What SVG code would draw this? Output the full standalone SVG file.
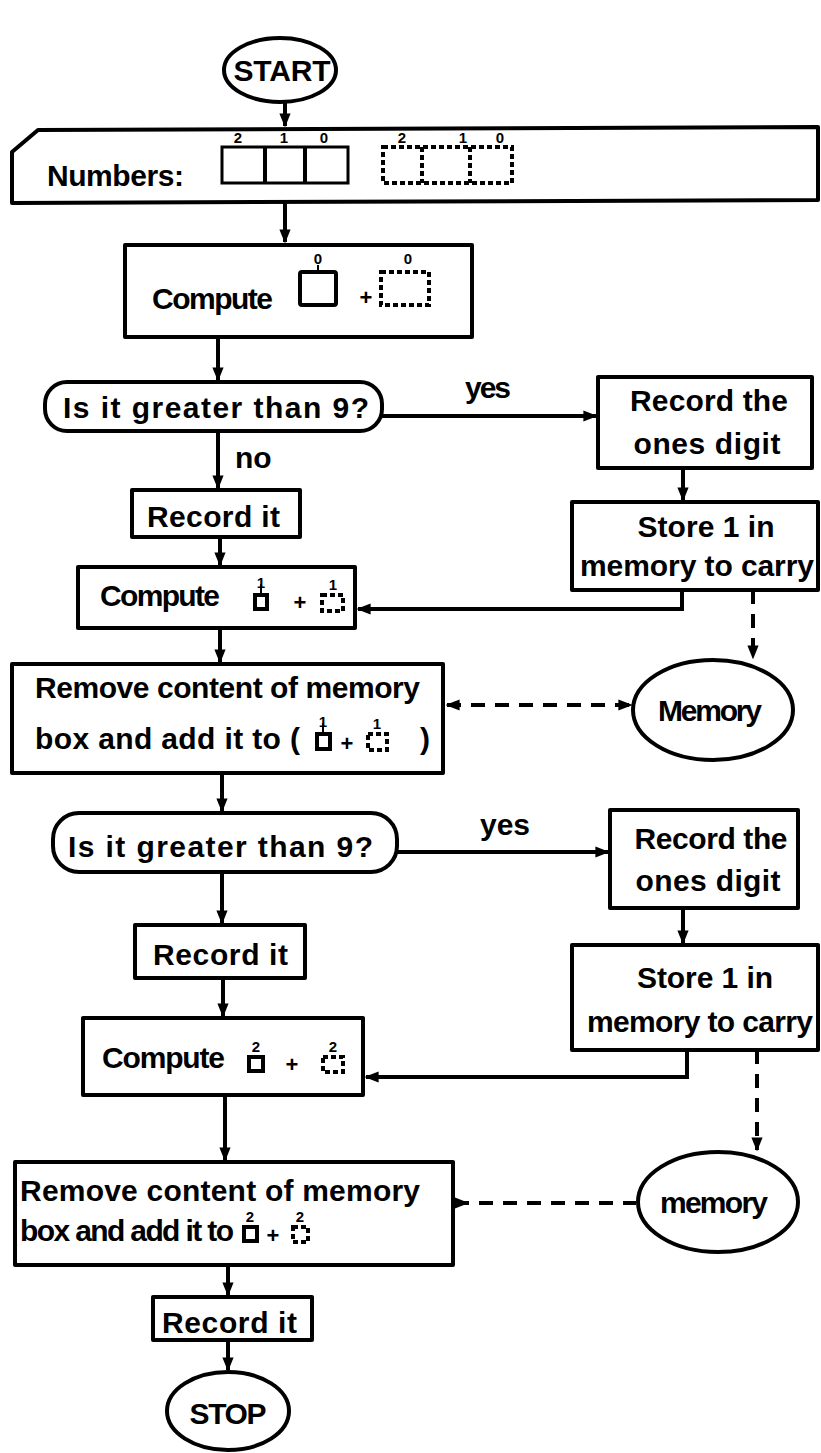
<svg xmlns="http://www.w3.org/2000/svg" width="821" height="1453" viewBox="0 0 821 1453">
<defs>
<style>
.b{fill:#fff;stroke:#000;stroke-width:4;stroke-linejoin:round}
.t{font-family:"Liberation Sans",Arial,sans-serif;font-weight:bold;font-size:30px;fill:#000}
.s{font-family:"Liberation Sans",Arial,sans-serif;font-weight:bold;font-size:15px;fill:#000}
.p{font-family:"Liberation Sans",Arial,sans-serif;font-weight:bold;font-size:22px;fill:#000}
.c{fill:none;stroke:#000;stroke-width:4}
.dc{fill:none;stroke:#000;stroke-width:4;stroke-dasharray:14 10}
.ic{fill:#fff;stroke:#000;stroke-width:3}
.is{fill:#fff;stroke:#000;stroke-width:4}
.ids{fill:none;stroke:#000;stroke-width:4;stroke-dasharray:5 3}
.st{stroke:#000;stroke-width:2}
.m{text-anchor:middle}
</style>
<marker id="a" viewBox="0 0 10 10" refX="9" refY="5" markerWidth="3.5" markerHeight="3.5" orient="auto-start-reverse"><path d="M0,1 L10,5 L0,9 z" fill="#000"/></marker>
<marker id="r" viewBox="0 0 10 10" refX="0" refY="5" markerWidth="3.5" markerHeight="3.5" orient="auto"><path d="M0,1 L10,5 L0,9 z" fill="#000"/></marker>
</defs>
<rect width="821" height="1453" fill="#fff"/>

<g id="connectors">
<line class="c" x1="285" y1="103" x2="285" y2="126" marker-end="url(#a)"/>
<line class="c" x1="285" y1="202" x2="285" y2="242" marker-end="url(#a)"/>
<line class="c" x1="218" y1="337" x2="218" y2="380" marker-end="url(#a)"/>
<path class="c" d="M382,416 H596" marker-end="url(#a)"/>
<text class="t" x="465" y="398" textLength="46">yes</text>
<line class="c" x1="218" y1="432" x2="218" y2="488" marker-end="url(#a)"/>
<text class="t" x="235" y="468" font-size="26">no</text>
<line class="c" x1="683" y1="468" x2="683" y2="500" marker-end="url(#a)"/>
<line class="c" x1="220" y1="537" x2="220" y2="565" marker-end="url(#a)"/>
<path class="c" d="M682,590 V609 H358" marker-end="url(#a)"/>
<path class="dc" d="M753,590 V658" marker-end="url(#a)"/>
<line class="c" x1="220" y1="628" x2="220" y2="662" marker-end="url(#a)"/>
<path class="dc" d="M447,705 H631" marker-start="url(#a)" marker-end="url(#a)"/>
<line class="c" x1="222" y1="773" x2="222" y2="811" marker-end="url(#a)"/>
<path class="c" d="M397,852 H608" marker-end="url(#a)"/>
<text class="t" x="480" y="835" textLength="50">yes</text>
<line class="c" x1="683" y1="908" x2="683" y2="943" marker-end="url(#a)"/>
<line class="c" x1="222" y1="872" x2="222" y2="923" marker-end="url(#a)"/>
<line class="c" x1="223" y1="978" x2="223" y2="1016" marker-end="url(#a)"/>
<path class="c" d="M687,1050 V1077 H366" marker-end="url(#a)"/>
<path class="dc" d="M757,1050 V1150" marker-end="url(#a)"/>
<line class="c" x1="225" y1="1095" x2="225" y2="1160" marker-end="url(#a)"/>
<path class="dc" d="M455,1203 H636" marker-start="url(#r)"/>
<line class="c" x1="228" y1="1265" x2="228" y2="1295" marker-end="url(#a)"/>
<line class="c" x1="228" y1="1340" x2="228" y2="1370" marker-end="url(#a)"/>
</g>

<g id="start">
<ellipse class="b" cx="280" cy="70" rx="56" ry="32"/>
<text class="t m" x="282" y="81" textLength="97">START</text>
</g>

<g id="numbers">
<path class="b" d="M12,203 L12,152 L38,130 L818,127 L818,200 Z"/>
<text class="t" x="47" y="186" textLength="137">Numbers:</text>
<rect class="ic" x="222" y="147" width="126" height="36" stroke-width="4"/>
<line class="c" x1="265" y1="147" x2="265" y2="183"/>
<line class="c" x1="305" y1="147" x2="305" y2="183"/>
<text class="s m" x="238" y="143">2</text>
<text class="s m" x="284" y="143">1</text>
<text class="s m" x="324" y="143">0</text>
<rect class="ids" x="383" y="147" width="129" height="36"/>
<line class="ids" x1="422" y1="147" x2="422" y2="183"/>
<line class="ids" x1="470" y1="147" x2="470" y2="183"/>
<text class="s m" x="402" y="143">2</text>
<text class="s m" x="463" y="143">1</text>
<text class="s m" x="500" y="143">0</text>
</g>

<g id="compute1">
<rect class="b" x="125" y="245" width="347" height="92"/>
<text class="t" x="152" y="309" textLength="121">Compute</text>
<rect class="is" x="300" y="272" width="36" height="33" rx="2"/>
<line class="st" x1="318" y1="265" x2="318" y2="272"/>
<text class="s m" x="318" y="264">0</text>
<text class="p m" x="366" y="305">+</text>
<rect class="ids" x="381" y="272" width="48" height="33"/>
<text class="s m" x="408" y="264">0</text>
</g>

<g id="decision1">
<rect class="b" x="45" y="382" width="337" height="49" rx="22"/>
<text class="t" x="63" y="418" textLength="306">Is it greater than 9?</text>
</g>

<g id="recordones1">
<rect class="b" x="598" y="377" width="214" height="91"/>
<text class="t m" x="709" y="411" textLength="158">Record the</text>
<text class="t m" x="707" y="454" textLength="147">ones digit</text>
</g>

<g id="store1">
<rect class="b" x="572" y="502" width="246" height="88"/>
<text class="t m" x="706" y="537" textLength="137">Store 1 in</text>
<text class="t m" x="697" y="576" textLength="234">memory to carry</text>
</g>

<g id="recordit1">
<rect class="b" x="132" y="490" width="168" height="47"/>
<text class="t" x="147" y="527" textLength="133">Record it</text>
</g>

<g id="compute2">
<rect class="b" x="78" y="567" width="277" height="61"/>
<text class="t" x="100" y="606" textLength="120">Compute</text>
<rect class="is" x="255" y="595" width="12" height="14"/>
<line class="st" x1="261" y1="584" x2="261" y2="595"/>
<text class="s m" x="261" y="588" font-size="12">1</text>
<text class="p m" x="300" y="610">+</text>
<rect class="ids" x="322" y="595" width="21" height="16"/>
<text class="s m" x="333" y="590" font-size="12">1</text>
</g>

<g id="memory1">
<ellipse class="b" cx="713" cy="710" rx="80" ry="50"/>
<text class="t m" x="710" y="721" textLength="104">Memory</text>
</g>

<g id="remove1">
<rect class="b" x="12" y="664" width="431" height="109"/>
<text class="t" x="35" y="698" textLength="385">Remove content of memory</text>
<text class="t" x="35" y="749" textLength="265">box and add it to (</text>
<rect class="is" x="317" y="734" width="13" height="15"/>
<line class="st" x1="323" y1="723" x2="323" y2="734"/>
<text class="s m" x="323" y="727" font-size="12">1</text>
<text class="p m" x="347" y="751">+</text>
<rect class="ids" x="368" y="734" width="19" height="16"/>
<text class="s m" x="377" y="729" font-size="12">1</text>
<text class="t" x="420" y="749">)</text>
</g>

<g id="decision2">
<rect class="b" x="53" y="813" width="344" height="59" rx="26"/>
<text class="t" x="68" y="857" textLength="305">Is it greater than 9?</text>
</g>

<g id="recordones2">
<rect class="b" x="610" y="810" width="188" height="98"/>
<text class="t m" x="711" y="849" textLength="153">Record the</text>
<text class="t m" x="708" y="891" textLength="145">ones digit</text>
</g>

<g id="store2">
<rect class="b" x="572" y="945" width="246" height="105"/>
<text class="t m" x="705" y="988" textLength="136">Store 1 in</text>
<text class="t m" x="700" y="1032" textLength="226">memory to carry</text>
</g>

<g id="recordit2">
<rect class="b" x="135" y="925" width="170" height="53"/>
<text class="t" x="153" y="965" textLength="135">Record it</text>
</g>

<g id="compute3">
<rect class="b" x="83" y="1018" width="280" height="77"/>
<text class="t" x="102" y="1068" textLength="123">Compute</text>
<rect class="is" x="249" y="1057" width="14" height="14"/>
<text class="s m" x="256" y="1052" font-size="14">2</text>
<text class="p m" x="292" y="1072">+</text>
<rect class="ids" x="323" y="1057" width="20" height="15"/>
<text class="s m" x="333" y="1052" font-size="14">2</text>
</g>

<g id="remove2">
<rect class="b" x="15" y="1162" width="438" height="103"/>
<text class="t" x="20" y="1201" textLength="400">Remove content of memory</text>
<text class="t" x="20" y="1241" font-size="28" textLength="214">box and add it to</text>
<rect class="is" x="244" y="1227" width="13" height="14"/>
<text class="s m" x="250" y="1222" font-size="14">2</text>
<text class="p m" x="273" y="1243">+</text>
<rect class="ids" x="293" y="1227" width="15" height="15"/>
<text class="s m" x="300" y="1222" font-size="14">2</text>
</g>

<g id="memory2">
<ellipse class="b" cx="718" cy="1202" rx="80" ry="50"/>
<text class="t m" x="714" y="1213" textLength="108">memory</text>
</g>

<g id="recordit3">
<rect class="b" x="153" y="1297" width="159" height="43"/>
<text class="t" x="162" y="1333" textLength="135">Record it</text>
</g>

<g id="stop">
<ellipse class="b" cx="228" cy="1411" rx="61" ry="39"/>
<text class="t m" x="228" y="1424" textLength="77">STOP</text>
</g>
</svg>
